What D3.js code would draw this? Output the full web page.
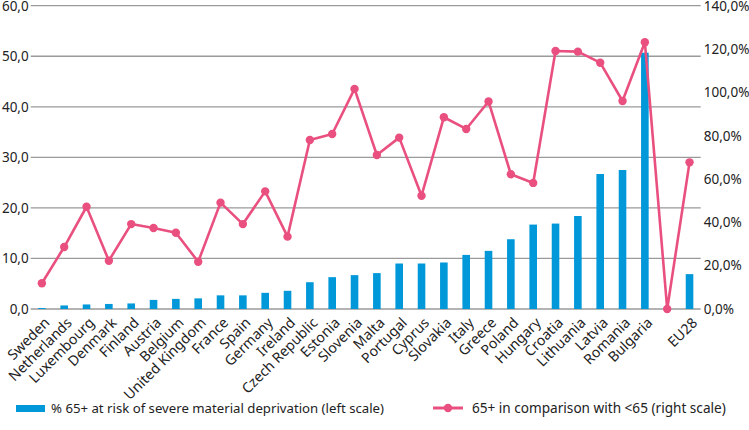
<!DOCTYPE html>
<html>
<head>
<meta charset="utf-8">
<script src="https://cdn.jsdelivr.net/npm/d3@7"></script>
<style>
body { margin:0; background:#fff; }
text { font-family: "Noto Sans", "Open Sans", sans-serif; fill:#222; }
</style>
</head>
<body>
<div id="chart"></div>
<script>
// Chart size
const W = 749, H = 430;
const margin = {top:5.7, right:48.3, bottom:121, left:30.7};
const width = W - margin.left - margin.right;
const height = H - margin.top - margin.bottom;

// Data
const countries = ["Sweden","Netherlands","Luxembourg","Denmark","Finland","Austria","Belgium",
  "United Kingdom","France","Spain","Germany","Ireland","Czech Republic","Estonia","Slovenia",
  "Malta","Portugal","Cyprus","Slovakia","Italy","Greece","Poland","Hungary","Croatia",
  "Lithuania","Latvia","Romania","Bulgaria","","EU28"];

// % 65+ at risk of severe material deprivation (left scale)
const deprivation = [0.2,0.7,0.9,1.0,1.1,1.8,2.0,2.1,2.7,2.7,3.2,3.6,5.3,6.3,6.7,
  7.1,9.0,9.0,9.2,10.7,11.5,13.8,16.7,16.9,18.4,26.7,27.5,50.7,null,6.9];

// 65+ in comparison with <65 (right scale, %)
const ratio = [11.9,28.6,47.2,22.3,39.2,37.4,35.2,21.8,49.1,39.2,54.3,33.4,78.0,80.8,101.6,
  71.1,79.1,52.3,88.5,83.1,95.8,62.2,58.2,119.1,118.8,113.7,96.0,123.1,0,67.7];

const leftTicks = [0,10,20,30,40,50,60];
const rightTicks = [0,20,40,60,80,100,120,140];

const barLabel = "% 65+ at risk of severe material deprivation (left scale)";
const lineLabel = "65+ in comparison with <65 (right scale)";

const blue = "#0098d9", pink = "#e9507f";

const loc = d3.formatLocale({decimal:",", thousands:".", grouping:[3], currency:["",""]});
const fmt = loc.format(".1f");

const svg = d3.select("#chart")
  .append("svg")
  .attr("width", W)
  .attr("height", H);

const g = svg.append("g")
  .attr("transform", `translate(${margin.left},${margin.top})`);

// X scale
const x = d3.scaleBand()
  .domain(countries.map((d,i) => i))
  .range([0,width])
  .paddingInner(0.66)
  .paddingOuter(0.33);

// Y scales
const yL = d3.scaleLinear().domain([0,60]).range([height,0]);
const yR = d3.scaleLinear().domain([0,140]).range([height,0]);

// Gridlines
g.append("g")
  .selectAll("line")
  .data(leftTicks)
  .enter()
  .append("line")
  .attr("x1", 0)
  .attr("x2", width)
  .attr("y1", d => yL(d))
  .attr("y2", d => yL(d))
  .attr("stroke", "#9a9a9a")
  .attr("stroke-width", 1.3);

// Left axis
g.append("g")
  .call(d3.axisLeft(yL).tickValues(leftTicks).tickFormat(fmt).tickSize(0).tickPadding(2))
  .call(s => s.select(".domain").remove())
  .selectAll("text")
  .attr("font-size", 13.5);

// Right axis
g.append("g")
  .attr("transform", `translate(${width},0)`)
  .call(d3.axisRight(yR).tickValues(rightTicks).tickFormat(d => fmt(d) + "%").tickSize(0).tickPadding(3))
  .call(s => s.select(".domain").remove())
  .selectAll("text")
  .attr("font-size", 13.5);

// X labels
const xAxis = g.append("g")
  .attr("transform", `translate(0,${height})`)
  .call(d3.axisBottom(x).tickFormat(i => countries[i]).tickSize(0));
xAxis.select(".domain").remove();
xAxis.selectAll("text")
  .attr("font-size", 14.2)
  .attr("text-anchor", "end")
  .attr("transform", "translate(1,7) rotate(-45)")
  .attr("dy", "0.55em");

// Bars
g.selectAll(".bar")
  .data(deprivation.map((v,i) => ({i, v})).filter(d => d.v !== null))
  .enter()
  .append("rect")
  .attr("class","bar")
  .attr("x", d => x(d.i))
  .attr("y", d => yL(d.v))
  .attr("width", x.bandwidth())
  .attr("height", d => height - yL(d.v))
  .attr("fill", blue);

// Line
const cx = i => x(i) + x.bandwidth()/2;
const line = d3.line()
  .x((d,i) => cx(i))
  .y(d => yR(d));

g.append("path")
  .datum(ratio)
  .attr("d", line)
  .attr("fill", "none")
  .attr("stroke", pink)
  .attr("stroke-width", 2.6)
  .attr("stroke-linejoin", "round");

g.selectAll(".dot")
  .data(ratio)
  .enter()
  .append("circle")
  .attr("class","dot")
  .attr("cx", (d,i) => cx(i))
  .attr("cy", d => yR(d))
  .attr("r", 4.2)
  .attr("fill", pink);

// Legend
const leg = svg.append("g").attr("transform", "translate(0,408)");
leg.append("rect")
  .attr("x", 16).attr("y", -3).attr("width", 29).attr("height", 7)
  .attr("fill", blue);
leg.append("text")
  .attr("x", 51).attr("y", 0).attr("dy", "0.35em")
  .attr("font-size", 13.2)
  .text(barLabel);
leg.append("line")
  .attr("x1", 433).attr("x2", 463).attr("y1", 0).attr("y2", 0)
  .attr("stroke", pink).attr("stroke-width", 3);
leg.append("circle")
  .attr("cx", 448).attr("cy", 0).attr("r", 4.2)
  .attr("fill", pink);
leg.append("text")
  .attr("x", 472).attr("y", 0).attr("dy", "0.35em")
  .attr("font-size", 13.6)
  .text(lineLabel);
</script>
</body>
</html>
